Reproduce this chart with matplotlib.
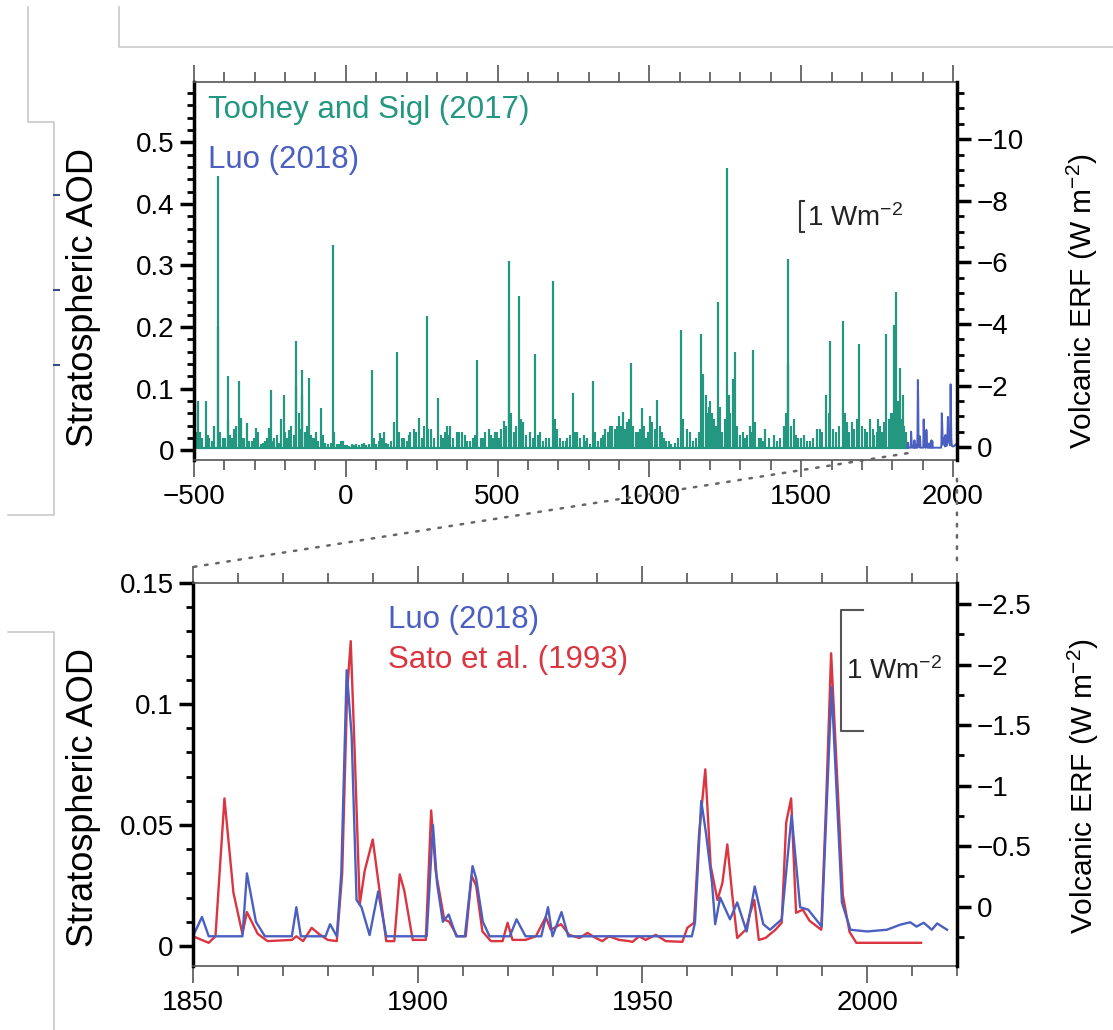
import matplotlib.pyplot as plt
from matplotlib.patches import ConnectionPatch
from matplotlib.lines import Line2D
from matplotlib.ticker import MultipleLocator, FuncFormatter

FONT = ['Liberation Sans', 'DejaVu Sans']
plt.rcParams['font.family'] = FONT
plt.rcParams['mathtext.default'] = 'regular'

GREEN = '#23977f'
BLUE = '#4a5fbf'
RED = '#da3540'
DARK = '#555555'

# --- Toohey and Sigl (2017): peak stratospheric AOD of the eruption signals
toohey_years = [
    -488, -480, -461, -450, -433, -422, -420, -405, -389, -387, -375, -362,
    -351, -345, -335, -324, -310, -296, -280, -265, -253, -247, -235, -214,
    -205, -195, -187, -165, -163, -145, -143, -135, -121, -110, -99, -83,
    -70, -60, -41, -38, -30, -17, -10,
    5, 20, 32, 45, 60, 75, 87, 100, 114, 125, 140, 158, 169, 191, 213, 224,
    241, 250, 266, 280, 303, 320, 333, 344, 366, 383, 394, 410, 432, 445,
    460, 471, 492,
    505, 520, 536, 538, 553, 572, 585, 607, 624, 640, 660, 681, 695, 717,
    730, 749, 762, 784, 795, 815, 830, 855, 877, 899, 913, 927, 938, 955,
    976, 990,
    1003, 1025, 1047, 1065, 1085, 1105, 1124, 1145, 1170, 1177, 1185, 1195,
    1206, 1226, 1240, 1256, 1267, 1274, 1283, 1300, 1315, 1330, 1341, 1360,
    1382, 1411, 1442, 1455, 1457, 1475, 1490,
    1508, 1530, 1552, 1563, 1582, 1595, 1615, 1637, 1650, 1667, 1692, 1710,
    1727, 1740, 1754, 1765, 1780, 1795, 1807, 1812, 1826, 1835, 1845,
]
toohey_aod = [
    0.08, 0.03, 0.08, 0.02, 0.04, 0.445, 0.20, 0.02, 0.121, 0.05, 0.02, 0.04,
    0.113, 0.052, 0.02, 0.044, 0.015, 0.036, 0.01, 0.015, 0.036, 0.097, 0.02, 0.05,
    0.089, 0.02, 0.033, 0.178, 0.105, 0.13, 0.09, 0.03, 0.118, 0.02, 0.03, 0.069,
    0.012, 0.01, 0.334, 0.03, 0.01, 0.015, 0.015,
    0.008, 0.01, 0.01, 0.008, 0.012, 0.01, 0.13, 0.01, 0.028, 0.03, 0.01, 0.045,
    0.159, 0.02, 0.03, 0.035, 0.052, 0.02, 0.218, 0.035, 0.084, 0.02, 0.04, 0.04,
    0.03, 0.03, 0.025, 0.015, 0.146, 0.02, 0.03, 0.035, 0.03,
    0.02, 0.047, 0.307, 0.21, 0.03, 0.25, 0.045, 0.03, 0.156, 0.03, 0.02, 0.274,
    0.035, 0.015, 0.02, 0.093, 0.03, 0.025, 0.02, 0.113, 0.015, 0.035, 0.04, 0.055,
    0.062, 0.045, 0.142, 0.03, 0.069, 0.02,
    0.055, 0.082, 0.02, 0.015, 0.012, 0.195, 0.035, 0.015, 0.189, 0.123, 0.09, 0.07,
    0.06, 0.24, 0.03, 0.459, 0.06, 0.115, 0.159, 0.025, 0.02, 0.04, 0.162, 0.02,
    0.035, 0.025, 0.04, 0.31, 0.14, 0.05, 0.02,
    0.025, 0.015, 0.035, 0.035, 0.09, 0.178, 0.03, 0.21, 0.045, 0.045, 0.172, 0.035,
    0.05, 0.025, 0.05, 0.03, 0.189, 0.06, 0.203, 0.257, 0.134, 0.09, 0.03,
]
# smaller signals that make up the dense low "grass" of the record
toohey_small_years = [
    -495, -472, -455, -442, -415, -398, -380, -368, -340, -318,
    -302, -288, -272, -260, -240, -228, -220, -200, -180, -172,
    -155, -150, -128, -115, -104, -92, -76, -50, -24, -4,
    12, 27, 52, 68, 94, 108, 120, 133, 150, 176,
    184, 200, 208, 232, 258, 272, 290, 312, 327, 338,
    352, 372, 400, 418, 425, 452, 478, 485, 498, 512,
    528, 545, 562, 578, 595, 615, 632, 650, 668, 688,
    706, 724, 740, 755, 770, 790, 805, 822, 840, 848,
    862, 870, 886, 892, 906, 920, 932, 945, 962, 969,
    983, 996, 1010, 1017, 1034, 1040, 1055, 1072, 1095, 1112,
    1135, 1155, 1162, 1190, 1200, 1213, 1220, 1232, 1248, 1262,
    1278, 1290, 1308, 1322, 1336, 1348, 1368, 1375, 1395, 1420,
    1430, 1450, 1465, 1482, 1498, 1518, 1540, 1570, 1590, 1605,
    1625, 1643, 1658, 1675, 1685, 1700, 1718, 1735, 1748, 1760,
    1772, 1788, 1800, 1818, 1830, 1840,
]
toohey_small_aod = [
    0.03, 0.02, 0.025, 0.015, 0.03, 0.02, 0.025, 0.035, 0.02, 0.015,
    0.02, 0.03, 0.012, 0.02, 0.015, 0.025, 0.012, 0.03, 0.04, 0.025,
    0.06, 0.035, 0.04, 0.025, 0.02, 0.015, 0.025, 0.012, 0.01, 0.008,
    0.006, 0.008, 0.01, 0.008, 0.02, 0.015, 0.02, 0.012, 0.015, 0.03,
    0.02, 0.015, 0.025, 0.03, 0.04, 0.035, 0.02, 0.025, 0.03, 0.025,
    0.02, 0.03, 0.015, 0.02, 0.025, 0.02, 0.025, 0.02, 0.03, 0.035,
    0.04, 0.06, 0.04, 0.05, 0.025, 0.02, 0.025, 0.015, 0.02, 0.05,
    0.02, 0.015, 0.025, 0.03, 0.02, 0.015, 0.01, 0.03, 0.02, 0.025,
    0.03, 0.04, 0.035, 0.04, 0.04, 0.035, 0.05, 0.04, 0.03, 0.035,
    0.04, 0.03, 0.045, 0.035, 0.04, 0.03, 0.015, 0.01, 0.02, 0.05,
    0.03, 0.02, 0.03, 0.06, 0.08, 0.05, 0.04, 0.07, 0.05, 0.09,
    0.06, 0.04, 0.03, 0.025, 0.03, 0.045, 0.02, 0.015, 0.02, 0.015,
    0.02, 0.06, 0.04, 0.025, 0.02, 0.015, 0.02, 0.03, 0.06, 0.035,
    0.04, 0.06, 0.03, 0.035, 0.05, 0.04, 0.03, 0.035, 0.03, 0.04,
    0.045, 0.05, 0.06, 0.08, 0.05, 0.04,
]
toohey_background = 0.004
toohey_start, toohey_end = -500, 1850

# --- Luo (2018)
luo_years = [
    1850, 1852, 1853.5, 1861, 1862, 1864, 1866, 1872, 1873, 1874, 1879.5,
    1880.5, 1882, 1883, 1884.2, 1885.3, 1886.4, 1887.5, 1889.3, 1891.2, 1893,
    1902, 1903.4, 1904.3, 1905.6, 1906.9, 1908.6, 1910.5, 1912.2, 1913, 1914.5,
    1916, 1920.5, 1922, 1924, 1927.5, 1929, 1930, 1932, 1933.5, 1961,
    1961.7, 1963.1, 1964.2, 1965.5, 1966.2, 1967.3, 1969.5, 1971.1, 1973.2,
    1975, 1976.9, 1978.4, 1981, 1983.2, 1985.1, 1986.9, 1989.9, 1992.1,
    1994.4, 1996.3, 2000, 2004.4, 2007.4, 2009.6, 2011, 2012.6, 2014.4,
    2015.6, 2017.8,
]
luo_aod = [
    0.004, 0.012, 0.004, 0.004, 0.030, 0.010, 0.004, 0.004, 0.016, 0.004, 0.004,
    0.009, 0.004, 0.030, 0.114, 0.087, 0.019, 0.016, 0.0045, 0.0225, 0.004,
    0.004, 0.050, 0.026, 0.010, 0.013, 0.004, 0.004, 0.033, 0.028, 0.010,
    0.004, 0.004, 0.011, 0.004, 0.004, 0.016, 0.004, 0.014, 0.004, 0.004,
    0.0096, 0.060, 0.046, 0.026, 0.009, 0.020, 0.011, 0.018, 0.006,
    0.0246, 0.009, 0.0067, 0.011, 0.054, 0.016, 0.015, 0.008, 0.107,
    0.018, 0.0067, 0.006, 0.0067, 0.0088, 0.0098, 0.008, 0.0096, 0.0067,
    0.0093, 0.0067,
]

# --- Sato et al. (1993)
sato_years = [
    1850, 1853.5, 1855, 1857, 1859, 1861, 1862, 1864.4, 1866.6, 1872, 1873,
    1874.5, 1876.4, 1878, 1880, 1882, 1883.2, 1884.3, 1885.1, 1886, 1887.1,
    1888.2, 1890, 1891.5, 1893, 1894.8, 1896, 1897, 1898.9, 1901.8, 1903,
    1904, 1905.9, 1907, 1908.8, 1910.7, 1912, 1913, 1914.4, 1916.3, 1918.9,
    1920, 1921.1, 1924, 1926.3, 1928.5, 1929.6, 1931.9, 1933.7, 1936, 1937.8,
    1939.6, 1941.1, 1942.6, 1944.8, 1946.7, 1947.8, 1949.3, 1950.7, 1953,
    1955.2, 1958.9, 1960, 1961.5, 1962.6, 1964, 1965.2, 1966.7, 1967.8,
    1968.9, 1970, 1971.1, 1973, 1974, 1974.9, 1975.9, 1977.4, 1979.6, 1981,
    1982, 1983.1, 1984.2, 1985.7, 1987.2, 1989.8, 1990.9, 1992, 1993.1,
    1994.6, 1996.1, 1997.6, 2012,
]
sato_aod = [
    0.004, 0.0013, 0.004, 0.061, 0.022, 0.005, 0.014, 0.005, 0.002, 0.0025, 0.004,
    0.002, 0.0075, 0.005, 0.0025, 0.002, 0.030, 0.105, 0.126, 0.079, 0.017,
    0.031, 0.044, 0.023, 0.002, 0.002, 0.0296, 0.023, 0.0025, 0.0025, 0.056,
    0.031, 0.011, 0.010, 0.004, 0.004, 0.029, 0.025, 0.006, 0.002, 0.002,
    0.0096, 0.0025, 0.0025, 0.004, 0.012, 0.0067, 0.009, 0.0046, 0.0033, 0.0054,
    0.0033, 0.002, 0.004, 0.0025, 0.0021, 0.0017, 0.004, 0.0025, 0.0046,
    0.002, 0.0017, 0.0075, 0.0096, 0.046, 0.073, 0.033, 0.019, 0.026,
    0.042, 0.021, 0.0033, 0.0067, 0.0137, 0.019, 0.0025, 0.0033, 0.0067, 0.0096,
    0.051, 0.061, 0.0137, 0.015, 0.0104, 0.0067, 0.060, 0.121, 0.079,
    0.021, 0.0058, 0.0013, 0.0013,
]

# ERF = -20 * (AOD - background) on the right-hand axes
ERF_SCALE = -20.0
ERF_OFFSET_TOP = 0.005
ERF_OFFSET_BOTTOM = 0.01625


def fmt(v, pos):
    return ('%g' % round(v, 4)).replace('-', '\u2212')


def style(ax, axr, xmaj, xmin, ymaj, ymin, rmaj, rmin):
    for s in ['top', 'bottom']:
        ax.spines[s].set_color(DARK)
        ax.spines[s].set_linewidth(1.2)
    ax.spines['left'].set_linewidth(2.5)
    ax.spines['right'].set_visible(False)
    for s in ['left', 'top', 'bottom']:
        axr.spines[s].set_visible(False)
    axr.spines['right'].set_linewidth(2.5)

    ax.xaxis.set_major_locator(MultipleLocator(xmaj))
    ax.xaxis.set_minor_locator(MultipleLocator(xmin))
    ax.yaxis.set_major_locator(MultipleLocator(ymaj))
    ax.yaxis.set_minor_locator(MultipleLocator(ymin))
    axr.yaxis.set_major_locator(MultipleLocator(rmaj))
    axr.yaxis.set_minor_locator(MultipleLocator(rmin))
    for a in (ax.xaxis, ax.yaxis, axr.yaxis):
        a.set_major_formatter(FuncFormatter(fmt))

    ax.tick_params(axis='x', which='major', direction='out', length=12, width=1.2,
                   color=DARK, top=True, labelsize=20, pad=5)
    ax.tick_params(axis='x', which='minor', direction='out', length=7, width=1.2,
                   color=DARK, top=True)
    for a in (ax, axr):
        a.tick_params(axis='y', which='major', direction='out', length=10, width=2.5,
                      color='black', labelsize=20, pad=4)
        a.tick_params(axis='y', which='minor', direction='out', length=5, width=2,
                      color='black')


fig = plt.figure(figsize=(11.13, 10.30), dpi=100)

# ---------------- top panel ----------------
ax1 = fig.add_axes([0.1743, 0.5534, 0.6855, 0.3670])
ax1.vlines(toohey_small_years, toohey_background, toohey_small_aod, color=GREEN, lw=1.5)
ax1.vlines(toohey_years, toohey_background, toohey_aod, color=GREEN, lw=1.6)
ax1.plot([toohey_start, toohey_end], [toohey_background, toohey_background],
         color=GREEN, lw=1.6)
ax1.plot(luo_years, luo_aod, color=BLUE, lw=1.4)
ax1.set_xlim(-500, 2013)
ax1.set_ylim(-0.016, 0.598)

ax1r = ax1.twinx()
lo, hi = ax1.get_ylim()
ax1r.set_ylim(ERF_SCALE * (lo - ERF_OFFSET_TOP), ERF_SCALE * (hi - ERF_OFFSET_TOP))
style(ax1, ax1r, 500, 100, 0.1, 0.02, 2, 0.5)

ax1.text(0.018, 0.926, 'Toohey and Sigl (2017)', transform=ax1.transAxes,
         color=GREEN, fontsize=22.5, va='center', ha='left')
ax1.text(0.018, 0.794, 'Luo (2018)', transform=ax1.transAxes,
         color=BLUE, fontsize=22.5, va='center', ha='left')

# 1 W m-2 scale bar
ax1r.plot([1510, 1497, 1497, 1510], [-8.0, -8.0, -7.0, -7.0], color='#333333', lw=1.5)
ax1r.text(1520, -7.45, '1 Wm$^{-2}$', fontsize=20, va='center', ha='left', color='#222222')

ax1.set_ylabel('Stratospheric AOD', fontsize=26)
ax1.yaxis.set_label_coords(-0.122, 0.43)
ax1r.set_ylabel('Volcanic ERF (W m$^{-2}$)', fontsize=21.5)
ax1r.yaxis.set_label_coords(1.142, 0.42)

# ---------------- bottom panel ----------------
ax2 = fig.add_axes([0.1734, 0.0621, 0.6864, 0.3718])
ax2.plot(sato_years, sato_aod, color=RED, lw=1.7)
ax2.plot(luo_years, luo_aod, color=BLUE, lw=1.7)
ax2.set_xlim(1850, 2020)
ax2.set_ylim(-0.0083, 0.15)

ax2r = ax2.twinx()
lo, hi = ax2.get_ylim()
ax2r.set_ylim(ERF_SCALE * (lo - ERF_OFFSET_BOTTOM), ERF_SCALE * (hi - ERF_OFFSET_BOTTOM))
style(ax2, ax2r, 50, 10, 0.05, 0.01, 0.5, 0.25)

ax2.text(0.255, 0.903, 'Luo (2018)', transform=ax2.transAxes,
         color=BLUE, fontsize=22.5, va='center', ha='left')
ax2.text(0.255, 0.799, 'Sato et al. (1993)', transform=ax2.transAxes,
         color=RED, fontsize=22.5, va='center', ha='left')

ax2r.plot([1999, 1994.2, 1994.2, 1999], [-2.45, -2.45, -1.45, -1.45], color='#555555', lw=1.5)
ax2r.text(1995.3, -1.95, '1 Wm$^{-2}$', fontsize=20, va='center', ha='left', color='#222222')

ax2.set_ylabel('Stratospheric AOD', fontsize=26)
ax2.yaxis.set_label_coords(-0.120, 0.44)
ax2r.set_ylabel('Volcanic ERF (W m$^{-2}$)', fontsize=21.5)
ax2r.yaxis.set_label_coords(1.142, 0.47)

# ---------------- zoom connectors ----------------
dots = dict(color='#666666', lw=1.8, linestyle=(0, (1, 3.5)))
fig.add_artist(ConnectionPatch(xyA=(1850, -0.005), coordsA='data', axesA=ax1,
                               xyB=(0.0, 1.042), coordsB='axes fraction', axesB=ax2,
                               **dots))
fig.add_artist(ConnectionPatch(xyA=(1.0, -0.05), coordsA='axes fraction', axesA=ax1,
                               xyB=(1.0, 1.042), coordsB='axes fraction', axesB=ax2,
                               **dots))

# ---------------- page frame lines from the source screenshot ----------------
W, H = 1113.0, 1030.0
frame = [
    [(28, 7), (28, 122), (54, 122), (54, 515), (8, 515)],
    [(119, 7), (119, 47), (1113, 47)],
    [(8, 632), (54, 632), (54, 1030)],
]
for path in frame:
    xs = [p[0] / W for p in path]
    ys = [1 - p[1] / H for p in path]
    fig.add_artist(Line2D(xs, ys, transform=fig.transFigure, color='#c8c8c8', lw=1.2))
for y in (195, 290, 365):
    fig.add_artist(Line2D([54 / W, 59 / W], [1 - y / H, 1 - y / H],
                          transform=fig.transFigure, color='#3a4a8a', lw=1.5))

fig.savefig('out.png', dpi=100)
